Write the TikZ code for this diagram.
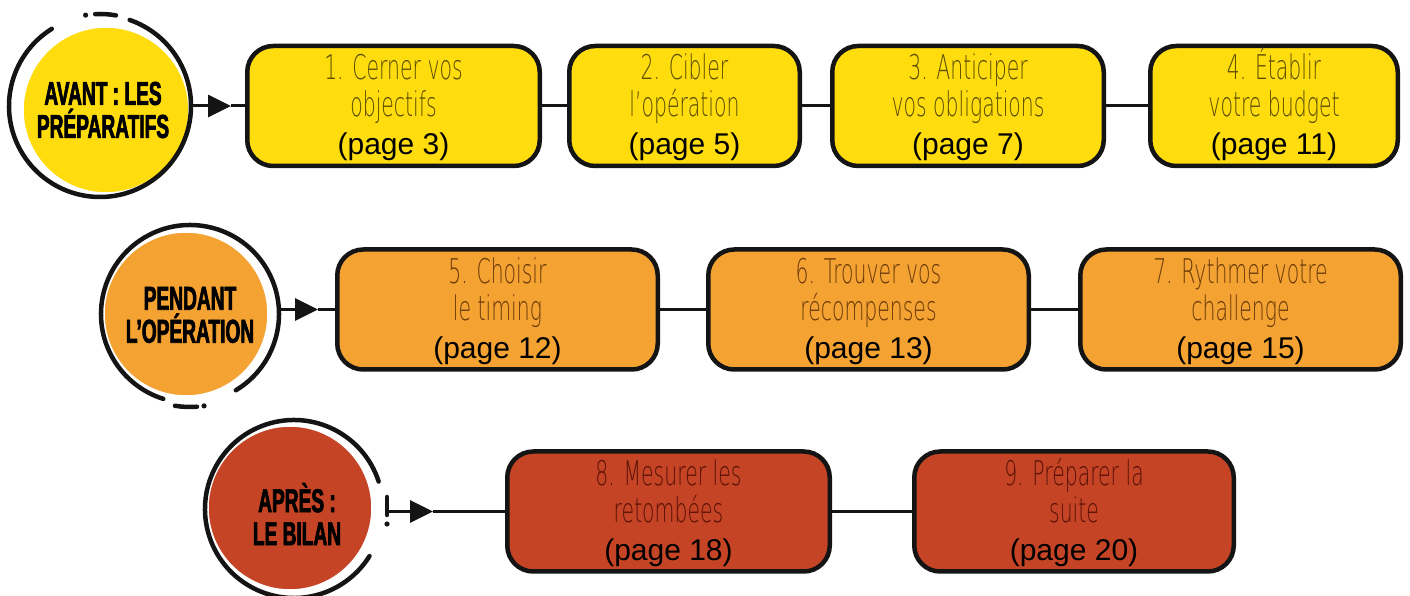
\documentclass[tikz,border=0pt]{standalone}
\usepackage{fontspec}
\usetikzlibrary{arrows.meta,calc}
\IfFontExistsTF{DejaVu Sans ExtraLight}
  {\newfontfamily\thinf[FakeStretch=0.6]{DejaVu Sans ExtraLight}}
  {\newfontfamily\thinf[FakeStretch=0.74]{Liberation Sans}}
\newfontfamily\pagef{Liberation Sans}
\newfontfamily\headf[FakeStretch=0.58,FakeBold=2]{Liberation Sans}
\definecolor{cyel}{HTML}{FFDC0E}
\definecolor{corg}{HTML}{F4A232}
\definecolor{cred}{HTML}{C54425}
\definecolor{tyel}{HTML}{5A4C00}
\definecolor{torg}{HTML}{6A3A08}
\definecolor{tred}{HTML}{5A1206}
\definecolor{ink}{HTML}{141414}
\newcommand{\mkstep}[9]{%
  \node[stepbox, fill=#5, minimum width=#4pt] (#1) at (#2,#3) {};
  \node[steptext, text=#6] (#1t) at ($(#1.north)+(0,-3)$)
    {\rule{0pt}{33pt}#7\\#8\\[1pt]{\pagef\fontsize{30}{36}\selectfont\color{black}#9}};
}
\begin{document}
\begin{tikzpicture}[x=1pt,y=1pt,
  stepbox/.style={draw=ink, line width=4.5pt, rounded corners=26pt, inner sep=0pt, minimum height=120pt},
  conn/.style={draw=ink, line width=3pt},
  ring/.style={draw=ink, line width=4.5pt, line cap=round},
  disc/.style={circle, draw=white, line width=1.5pt, inner sep=0pt},
  steptext/.style={align=center, inner sep=0pt, anchor=north, font=\thinf\fontsize{34}{37}\selectfont},
  headtext/.style={align=center, inner sep=0pt, text=black, font=\headf\bfseries\fontsize{33}{33}\selectfont},
  tip/.style={-{Triangle[length=23pt,width=22pt]}}
]
\useasboundingbox (0,0) rectangle (1410,596);

% ---------- circles ----------
\node[disc, fill=cyel, minimum size=166pt] (c1) at (106,486) {};
\draw[ring] (100,490) ++(122:91) arc[start angle=122, end angle=431, radius=91];
\draw[ring] (100,490) ++(93:92) arc[start angle=93, end angle=80, radius=92];
\fill[ink] (100,490) ++(99:92) circle[radius=2.6];
\node[headtext] (c1t) at (103,486) {AVANT : LES\\PRÉPARATIFS};

\node[disc, fill=corg, minimum size=164pt] (c2) at (186,282) {};
\draw[ring] (190,282) ++(-59:89) arc[start angle=-59, end angle=252.5, radius=89];
\draw[ring] (190,282) ++(-99.3:93) arc[start angle=-99.3, end angle=-85.7, radius=93];
\fill[ink] (190,282) ++(-81.3:93) circle[radius=2.6];
\node[headtext] (c2t) at (190,281) {PENDANT\\L’OPÉRATION};

\node[disc, fill=cred, minimum size=164pt] (c3) at (290,88) {};
\draw[ring] (294,87) ++(18:89) arc[start angle=18, end angle=328, radius=89];
\coordinate (bar1) at (387,99);
\coordinate (bar2) at (387,81);
\draw[ring] (bar1) -- (bar2);
\fill[ink] (387,72) circle[radius=2.6];
\node[headtext] (c3t) at (297,82) {APRÈS :\\LE BILAN};

% ---------- steps ----------
\mkstep{b1}{393.5}{490}{292.5}{cyel}{tyel}{1. Cerner vos}{objectifs}{(page 3)}
\mkstep{b2}{684.5}{490}{230.5}{cyel}{tyel}{2. Cibler}{l’opération}{(page 5)}
\mkstep{b3}{968}{490}{271.5}{cyel}{tyel}{3. Anticiper}{vos obligations}{(page 7)}
\mkstep{b4}{1274}{490}{247.5}{cyel}{tyel}{4. Établir}{votre budget}{(page 11)}

\mkstep{b5}{497.5}{286.5}{320.5}{corg}{torg}{5. Choisir}{le timing}{(page 12)}
\mkstep{b6}{868.5}{286.5}{320.5}{corg}{torg}{6. Trouver vos}{récompenses}{(page 13)}
\mkstep{b7}{1240.5}{286.5}{320.5}{corg}{torg}{7. Rythmer votre}{challenge}{(page 15)}

\mkstep{b8}{668.5}{84.5}{322.5}{cred}{tred}{8. Mesurer les}{retombées}{(page 18)}
\mkstep{b9}{1074}{84.5}{319.5}{cred}{tred}{9. Préparer la}{suite}{(page 20)}

% ---------- connectors ----------
\coordinate (s1) at (192,490);
\coordinate (a1) at (231,490);
\draw[conn, tip] (s1) -- (a1);
\draw[conn] (a1) -- (b1.west);
\draw[conn] (b1.east) -- (b2.west);
\draw[conn] (b2.east) -- (b3.west);
\draw[conn] (b3.east) -- (b4.west);

\coordinate (s2) at (280,286.5);
\coordinate (a2) at (318,286.5);
\draw[conn, tip] (s2) -- (a2);
\draw[conn] (a2) -- (b5.west);
\draw[conn] (b5.east) -- (b6.west);
\draw[conn] (b6.east) -- (b7.west);

\coordinate (s3) at (387,84.5);
\coordinate (a3) at (433,84.5);
\draw[conn, tip] (s3) -- (a3);
\draw[conn] (a3) -- (b8.west);
\draw[conn] (b8.east) -- (b9.west);
\end{tikzpicture}
\end{document}
